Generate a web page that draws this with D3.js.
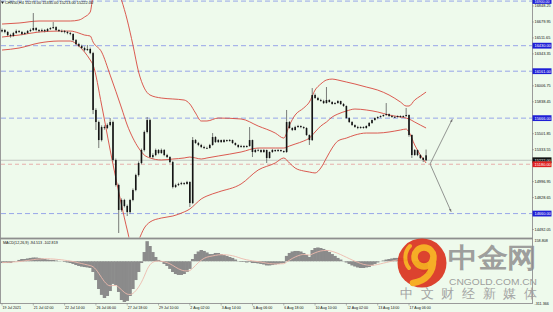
<!DOCTYPE html>
<html><head><meta charset="utf-8">
<script src="https://cdn.jsdelivr.net/npm/d3@7"></script>
<style>
html,body{margin:0;padding:0;background:#eefaec;}
svg{display:block;}
text{font-family:"Liberation Sans",Arial,sans-serif;}
</style></head><body>
<svg id="c" width="553" height="312"></svg>
<script>
// ---------- DATA ----------
const symbolTitle = "CHN50,H4 15274.00 15335.00 15213.00 15222.00";
const open = [16580,16595,16574,16542,16532,16563,16584,16574,16553,16563,
16584,16595,16616,16595,16584,16595,16584,16605,16616,16626,
16595,16584,16584,16574,16563,16553,16489,16447,16426,16405,
16384,16395,16352,15752,15625,15435,15572,15562,15593,15625,
15225,14961,14698,14803,14740,14676,14803,14908,15066,15193,
15330,15520,15646,15256,15277,15330,15298,15330,15277,15256,
15203,14940,14961,14972,14982,14972,14993,14771,15435,15404,
15383,15362,15351,15351,15383,15467,15414,15435,15414,15435,
15425,15435,15404,15383,15362,15372,15362,15372,15435,15309,
15330,15330,15309,15330,15246,15309,15330,15319,15330,15319,
15309,15625,15562,15541,15572,15583,15572,15562,15488,15435,
15910,15878,15857,15846,15825,15857,15836,15815,15825,15846,
15815,15794,15667,15625,15593,15572,15562,15572,15562,15583,
15615,15646,15667,15678,15688,15699,15709,15688,15678,15678,
15688,15678,15688,15699,15488,15277,15330,15277,15246,15274];
const high = [16610,16605,16585,16555,16575,16600,16595,16585,16575,16595,
16610,16774,16625,16605,16610,16605,16615,16625,16679,16635,
16605,16600,16595,16585,16575,16560,16500,16460,16440,16420,
16437,16410,16365,15770,15640,15590,15590,15610,15667,15640,
15240,14975,14820,14815,14755,14815,14925,15080,15210,15345,
15535,15678,15660,15295,15345,15340,15345,15340,15290,15265,
15215,14975,14985,14995,14990,15005,15000,15467,15445,15415,
15395,15375,15365,15395,15509,15475,15445,15440,15445,15440,
15445,15440,15410,15390,15385,15380,15380,15572,15440,15340,
15345,15338,15340,15335,15315,15340,15335,15340,15335,15325,
15752,15635,15570,15585,15595,15590,15580,15570,15495,15983,
15925,15890,15870,15860,15994,15865,15845,15835,15855,15850,
15825,15800,15675,15635,15600,15585,15580,15580,15590,15625,
15652,15675,15685,15695,15705,15825,15715,15700,15690,15695,
15695,15695,15773,15705,15495,15340,15335,15285,15255,15335];
const low = [16570,16560,16530,16515,16525,16555,16565,16540,16545,16555,
16575,16585,16580,16570,16575,16570,16575,16595,16605,16585,
16575,16570,16560,16550,16540,16475,16435,16415,16395,16370,
16375,16340,15709,15541,15351,15420,15545,15550,15580,15210,
14945,14455,14680,14725,14634,14660,14790,14895,15050,15180,
15315,15505,15246,15240,15265,15285,15290,15265,15245,15190,
14925,14930,14950,14960,14960,14965,14729,14760,15395,15370,
15350,15340,15340,15345,15375,15405,15405,15405,15408,15415,
15418,15395,15375,15350,15355,15350,15355,15365,15256,15300,
15315,15300,15300,15193,15240,15300,15310,15312,15310,15300,
15300,15555,15530,15535,15565,15560,15550,15480,15383,15425,
15870,15850,15840,15815,15820,15830,15808,15810,15820,15805,
15785,15660,15615,15585,15565,15550,15555,15555,15555,15575,
15605,15640,15655,15670,15680,15690,15680,15670,15668,15672,
15670,15672,15680,15470,15246,15270,15265,15235,15203,15213];
const close = [16595,16574,16542,16532,16563,16584,16574,16553,16563,16584,
16595,16616,16595,16584,16595,16584,16605,16616,16626,16595,
16584,16584,16574,16563,16553,16489,16447,16426,16405,16384,
16395,16352,15752,15625,15435,15572,15562,15593,15625,15225,
14961,14698,14803,14740,14676,14803,14908,15066,15193,15330,
15520,15646,15256,15277,15330,15298,15330,15277,15256,15203,
14940,14961,14972,14982,14972,14993,14771,15435,15404,15383,
15362,15351,15351,15383,15467,15414,15435,15414,15435,15425,
15435,15404,15383,15362,15372,15362,15372,15435,15309,15330,
15330,15309,15330,15246,15309,15330,15319,15330,15319,15309,
15625,15562,15541,15572,15583,15572,15562,15488,15435,15910,
15878,15857,15846,15825,15857,15836,15815,15825,15846,15815,
15794,15667,15625,15593,15572,15562,15572,15562,15583,15615,
15646,15667,15678,15688,15699,15709,15688,15678,15678,15688,
15678,15688,15699,15488,15277,15330,15277,15246,15225,15222];

// Bollinger bands read at selected bars
const bbIdx = [0,6,13,20,24,27,29,31,32,35,38,42,44,46,48,50,52,56,60,64,66,68,70,72,76,84,90,96,99,101,103,106,108,110,112,114,116,118,121,124,128,132,136,140,142,143,145,147,149];
const bbUpper = [16658,16669,16690,16690,16690,16700,16732,16785,16964,17175,17227,16911,16700,16437,16152,15983,15910,15878,15868,15857,15815,15720,15636,15636,15667,15657,15583,15509,15456,15593,15699,15773,15836,15962,16026,16068,16078,16068,16047,16026,15994,15962,15910,15836,15794,15794,15857,15899,15941];
const bbMiddle = [16521,16542,16574,16584,16584,16563,16542,16532,16468,16363,16120,15773,15593,15456,15351,15277,15246,15225,15235,15246,15256,15246,15235,15246,15267,15309,15351,15351,15351,15372,15393,15425,15456,15520,15583,15625,15678,15709,15741,15762,15752,15731,15699,15678,15667,15657,15625,15593,15562];
const bbLower = [16384,16405,16458,16479,16479,16426,16363,16279,16226,15804,15330,14750,14487,14276,14381,14508,14571,14613,14634,14677,14708,14761,14814,14845,14887,14972,15119,15193,15246,15193,15140,15109,15098,15088,15140,15246,15351,15425,15456,15488,15509,15509,15520,15541,15551,15520,15383,15277,15193];

// MACD(12,26,9)
const macdMain = [-13,-13,-13,-13,-5,2,10,17,17,21,
25,28,28,25,21,17,13,10,10,6,
2,-1,-5,-9,-13,-20,-28,-35,-40,-43,
-46,-50,-80,-140,-207,-251,-274,-259,-222,-169,
-177,-229,-289,-304,-296,-259,-207,-140,-80,-13,
69,150,114,69,32,10,-5,-20,-35,-57,
-80,-95,-102,-102,-95,-80,-57,17,54,73,
84,77,66,54,54,62,62,54,47,40,
32,25,13,2,-5,-5,-9,-5,-13,-13,
-16,-20,-24,-31,-31,-28,-24,-20,-16,-13,
40,62,73,77,77,73,62,47,32,84,
99,103,99,92,84,69,54,40,25,13,
2,-9,-20,-31,-39,-46,-50,-50,-46,-43,
-31,-20,-9,-1,6,13,17,21,25,25,
25,21,17,2,-20,-35,-50,-65,-80,-94.513];
const macdSignal = [-10,-9,-8,-7,-5,-4,-2,0,3,6,
9,12,15,17,18,19,19,18,17,15,
13,11,8,5,2,-2,-7,-12,-17,-22,
-27,-32,-41,-61,-90,-122,-152,-174,-183,-180,
-181,-194,-213,-232,-245,-248,-240,-220,-192,-156,
-111,-61,-26,-7,0,2,0,-4,-10,-19,
-31,-44,-56,-65,-71,-72,-69,-52,-31,-10,
8,22,31,36,40,44,48,49,49,48,
45,41,36,29,22,16,11,7,3,0,
-3,-6,-10,-14,-17,-19,-20,-20,-19,-18,
-6,8,21,32,41,48,51,50,46,54,
63,71,77,80,81,79,74,67,59,50,
40,30,20,10,1,-8,-16,-23,-27,-30,
-30,-28,-24,-19,-14,-9,-4,1,6,10,
13,15,16,13,5,-9,-22,-35,-48,-60];
const macdTitle = "MACD(12,26,9) -94.513 -102.819";
const macdRange = [-311.366, 158.808];

// axis ticks / labels
const priceTicks = [16848.25,16679.95,16511.65,16343.35,16006.75,15838.45,15501.85,15333.55,14996.95,14828.65,14492.05];
const levelPrices = [16900.00,16430.00,16161.00,15666.00,14660.00];
const bidPrice = 15222.00;
const alertPrice = 15180.00;
const timeIdx = [0,11,22,33,44,55,66,77,88,99,110,121,132,143];
const timeText = ['19 Jul 2021','21 Jul 02:00','22 Jul 14:00','26 Jul 06:00','27 Jul 18:00','29 Jul 10:00','2 Aug 02:00','3 Aug 14:00','5 Aug 06:00','6 Aug 18:00','10 Aug 10:00','12 Aug 02:00','13 Aug 14:00','17 Aug 06:00'];
// projected paths (bar index, price)
const projStart = [150.4, 15183];
const projTargets = [[158.2, 15654],[157.8, 14680]];

// ---------- DRAW ----------
const BG = '#eefaec';
const svg = d3.select('#c');
svg.append('rect').attr('width',553).attr('height',312).attr('fill',BG);

const x = d3.scaleLinear().domain([0,143]).range([2,409]);
const y = d3.scaleLinear().domain([16848.25,14492.05]).range([6,229.5]);
const ym = d3.scaleLinear().domain(macdRange).range([303,240]);
const f2 = d3.format('.2f');

const defs = svg.append('defs');
defs.append('clipPath').attr('id','cm').append('rect').attr('x',1).attr('y',0).attr('width',531).attr('height',237.5);
defs.append('clipPath').attr('id','cd').append('rect').attr('x',1).attr('y',240).attr('width',531).attr('height',63);
defs.append('marker').attr('id','arr').attr('viewBox','0 0 10 10').attr('refX',9).attr('refY',5)
  .attr('markerWidth',4).attr('markerHeight',4).attr('orient','auto')
  .append('path').attr('d','M0,1 L10,5 L0,9 z').attr('fill','#7a7a7a');

const gm = svg.append('g').attr('clip-path','url(#cm)');

// level lines
gm.selectAll('.lvl').data(levelPrices).join('line')
  .attr('x1',1).attr('x2',532).attr('y1',d=>y(d)).attr('y2',d=>y(d))
  .attr('stroke','#8d9ce8').attr('stroke-width',0.9).attr('stroke-dasharray','5,3');
gm.append('line').attr('x1',1).attr('x2',532).attr('y1',y(bidPrice)).attr('y2',y(bidPrice))
  .attr('stroke','#b9b9b9').attr('stroke-width',0.8);
gm.append('line').attr('x1',1).attr('x2',532).attr('y1',y(alertPrice)).attr('y2',y(alertPrice))
  .attr('stroke','#e59a9a').attr('stroke-width',0.8).attr('stroke-dasharray','4,3');

// bollinger
const bbIdxArr = bbIdx.map((d,i)=>i);
[bbUpper,bbMiddle,bbLower].forEach(arr=>{
  const ln = d3.line().x(i=>x(bbIdx[i])).y(i=>y(arr[i])).curve(d3.curveMonotoneX);
  gm.append('path').attr('d',ln(bbIdxArr)).attr('fill','none')
    .attr('stroke','#d8473e').attr('stroke-width',0.9);
});

// candles
const idx = d3.range(close.length);
gm.selectAll('.wk').data(idx).join('line')
  .attr('x1',i=>x(i)).attr('x2',i=>x(i)).attr('y1',i=>y(high[i])).attr('y2',i=>y(low[i]))
  .attr('stroke','#5a5a5a').attr('stroke-width',0.8);
gm.selectAll('.bd').data(idx).join('rect')
  .attr('x',i=>x(i)-0.8).attr('width',1.6)
  .attr('y',i=>y(Math.max(open[i],close[i])))
  .attr('height',i=>Math.max(0.7, Math.abs(y(open[i])-y(close[i]))))
  .attr('fill','#141414');

// projection arrows
projTargets.forEach(t=>{
  gm.append('line').attr('x1',x(projStart[0])).attr('y1',y(projStart[1]))
    .attr('x2',x(t[0])).attr('y2',y(t[1]))
    .attr('stroke','#7a7a7a').attr('stroke-width',0.8).attr('marker-end','url(#arr)');
});

// title
svg.append('path').attr('d','M1,1.5 L4,1.5 L2.5,4 z').attr('fill','#222');
svg.append('text').attr('x',5).attr('y',4.3).attr('font-size',3.9).attr('fill','#111').text(symbolTitle);

// MACD panel
const gd = svg.append('g').attr('clip-path','url(#cd)');
const bw = x(1)-x(0);
gd.selectAll('.hb').data(idx).join('rect')
  .attr('x',i=>x(i)-bw/2-0.3).attr('width',bw+0.6)
  .attr('y',i=>Math.min(ym(0),ym(macdMain[i])))
  .attr('height',i=>Math.abs(ym(macdMain[i])-ym(0)))
  .attr('fill','#8b8b8b');
gd.append('path').attr('d',d3.line().x(i=>x(i)).y(i=>ym(macdSignal[i])).curve(d3.curveMonotoneX)(idx))
  .attr('fill','none').attr('stroke','#edb9ad').attr('stroke-width',0.9);
svg.append('text').attr('x',3).attr('y',243.8).attr('font-size',3.7).attr('fill','#111').text(macdTitle);

// frame
svg.append('line').attr('x1',0.5).attr('x2',0.5).attr('y1',0).attr('y2',303.5).attr('stroke','#9a9a9a').attr('stroke-width',1);
svg.append('line').attr('x1',532.5).attr('x2',532.5).attr('y1',0).attr('y2',303.5).attr('stroke','#9a9a9a').attr('stroke-width',1);
svg.append('rect').attr('x',0).attr('y',237.6).attr('width',533).attr('height',1.8).attr('fill','#8e8e8e');
svg.append('line').attr('x1',0).attr('x2',533).attr('y1',303.5).attr('y2',303.5).attr('stroke','#9a9a9a').attr('stroke-width',1);

// price axis
const ga = svg.append('g');
ga.selectAll('.pt').data(priceTicks).join('text')
  .attr('x',534.5).attr('y',d=>y(d)).attr('dy','0.35em').attr('font-size',3.9).attr('fill','#111').text(f2);
ga.selectAll('.ptk').data(priceTicks).join('line')
  .attr('x1',532).attr('x2',534).attr('y1',d=>y(d)).attr('y2',d=>y(d)).attr('stroke','#777').attr('stroke-width',0.5);
function tag(v, fill){
  const g = ga.append('g');
  const top = y(v) < 3;
  const cy = top ? 1.8 : y(v);
  const fs = top ? 3.6 : 3.9;
  g.append('rect').attr('x',532.5).attr('y',top ? 0 : cy-2.9).attr('width',19).attr('height',top ? 3.9 : 5.8).attr('fill',fill);
  g.append('text').attr('x',534.5).attr('y',cy).attr('dy','0.35em').attr('font-size',fs).attr('fill','#fff').text(f2(v));
}
levelPrices.forEach(v=>tag(v,'#1f1fd6'));
tag(bidPrice,'#111');
tag(alertPrice,'#e02020');

// macd axis labels
ga.append('text').attr('x',534.5).attr('y',ym(macdRange[1])+1).attr('dy','0.35em').attr('font-size',3.7).attr('fill','#111').text(macdRange[1].toFixed(3));
ga.append('text').attr('x',534.5).attr('y',ym(macdRange[0])+0.8).attr('dy','0.35em').attr('font-size',3.7).attr('fill','#111').text(macdRange[0].toFixed(3));

// time axis
const gt = svg.append('g');
gt.selectAll('.tk').data(timeIdx).join('line')
  .attr('x1',i=>x(i)).attr('x2',i=>x(i)).attr('y1',303.5).attr('y2',305.5).attr('stroke','#777').attr('stroke-width',0.5);
gt.selectAll('.tl').data(timeIdx).join('text')
  .attr('x',i=>x(i)+0.5).attr('y',309).attr('font-size',3.6).attr('fill','#111')
  .text((d,i)=>timeText[i]);

// watermark logo
const lg = svg.append('g').attr('opacity',0.95);
lg.append('circle').attr('cx',422).attr('cy',263).attr('r',24.5).attr('fill','#dc3a25');
lg.append('circle').attr('cx',424).attr('cy',257).attr('r',9.5).attr('fill','none').attr('stroke','#f7aa1c').attr('stroke-width',6.5);
lg.append('path').attr('d','M433,259 C434,272 426,281 413,283').attr('fill','none').attr('stroke','#f7aa1c').attr('stroke-width',6.5).attr('stroke-linecap','round');
lg.append('path').attr('d','M410,246 C404,252 404,262 409,268').attr('fill','none').attr('stroke','#f7aa1c').attr('stroke-width',4).attr('stroke-linecap','round');
lg.append('text').attr('x',448).attr('y',267).attr('font-size',27).attr('textLength',89).attr('lengthAdjust','spacingAndGlyphs').attr('font-weight',700)
  .attr('font-family','"Noto Sans CJK SC"').attr('fill','#8e8e8e').attr('fill-opacity',0.9).text('中金网');
lg.append('text').attr('x',449).attr('y',284.5).attr('font-size',9.5).attr('textLength',88).attr('lengthAdjust','spacingAndGlyphs')
  .attr('font-family','"Liberation Sans",Arial').attr('fill','#9a9a9a').text('CNGOLD.COM.CN');
lg.append('text').attr('x',400).attr('y',298).attr('font-size',13).attr('textLength',137).attr('lengthAdjust','spacing')
  .attr('font-family','"Noto Sans CJK SC"').attr('font-weight',300).attr('fill','#a0a0a0').text('中文财经新媒体');
</script>
</body></html>
